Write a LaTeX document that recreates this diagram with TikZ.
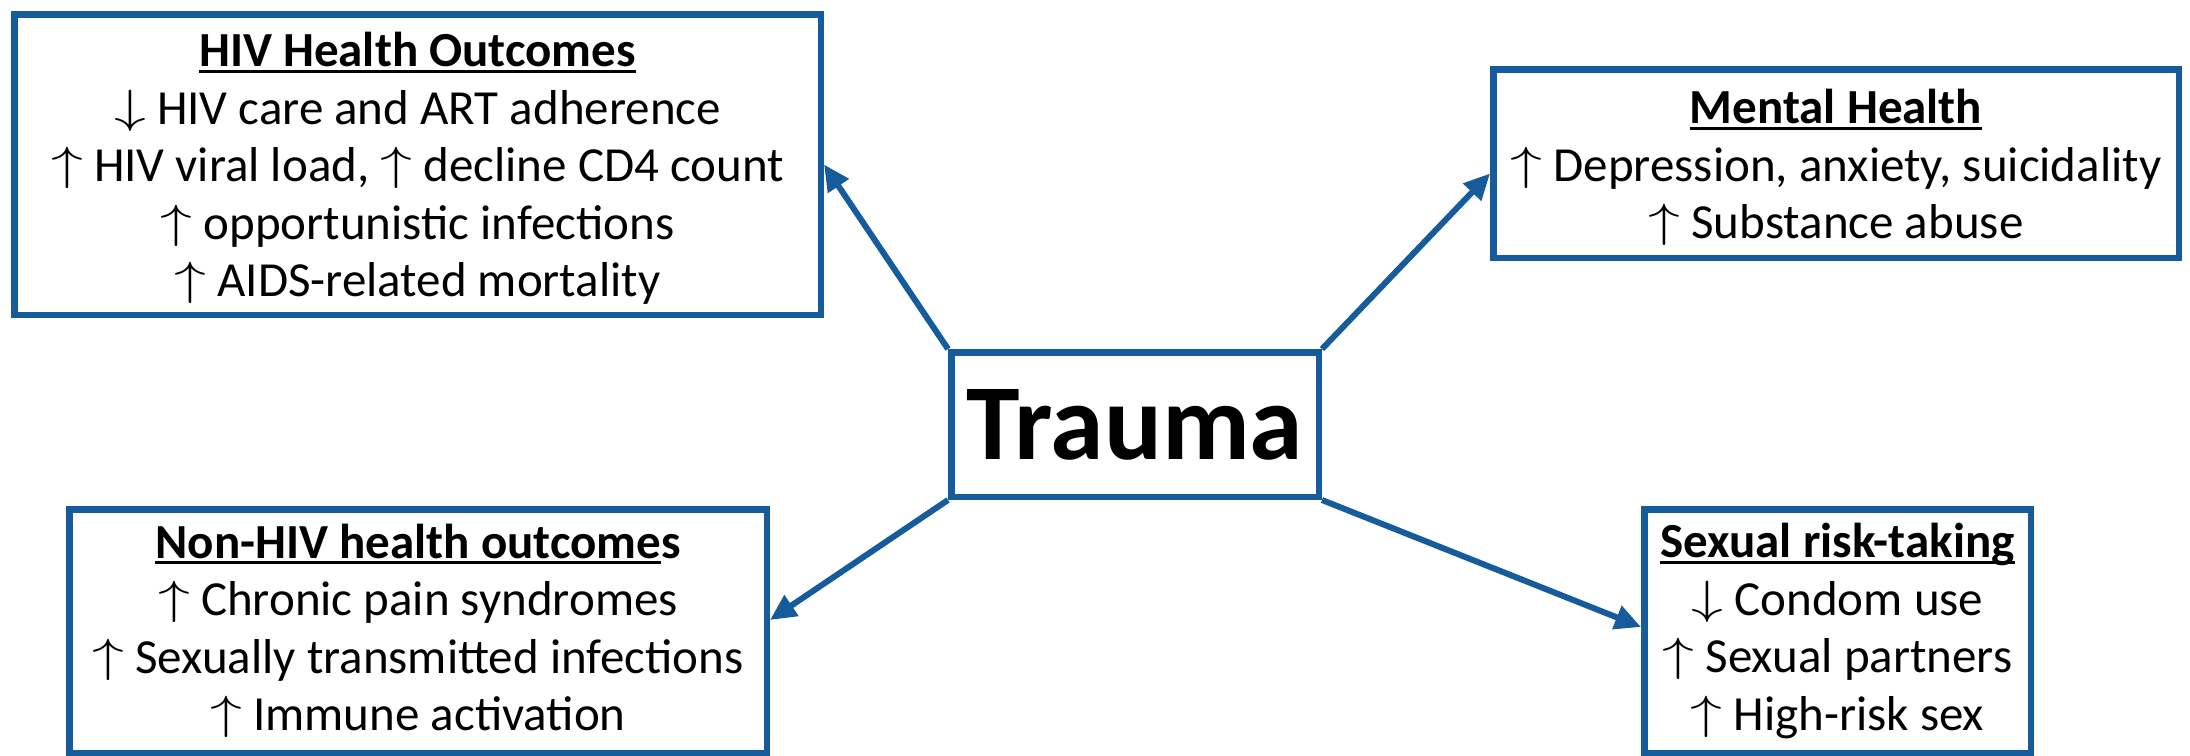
\RequirePackage{fix-cm}
\documentclass[tikz,border=0pt]{standalone}
\usepackage{fontspec}
\setmainfont{Carlito}
\usetikzlibrary{arrows.meta,calc}
\definecolor{bblue}{RGB}{22,91,155}
\newcommand{\ulx}[1]{\setbox0\hbox{#1}\rlap{\rule[-0.12em]{\wd0}{0.06em}}\box0}
\newcommand{\up}{\raisebox{0.04em}{\scalebox{1.3}[0.95]{$\uparrow$}}}
\newcommand{\dn}{\raisebox{0.04em}{\scalebox{1.3}[0.95]{$\downarrow$}}}
\begin{document}
\begin{tikzpicture}[x=1pt,y=-1pt,
  box/.style={draw=bblue,line width=6.5pt,rectangle,inner sep=0pt},
  txt/.style={inner sep=0pt,align=center,font=\fontsize{49}{57.5}\selectfont},
  conn/.style={draw=bblue,line width=6pt,-{Triangle[length=26pt,width=24pt]}}]
\useasboundingbox (0,0) rectangle (2190,755);
\node[box,minimum width=806.5pt,minimum height=300.5pt] (hiv) at (417.5,164.5) {};
\node[txt] (hivt) at ([yshift=-4pt]hiv.center)
  {\ulx{\textbf{HIV Health Outcomes}}\\ \dn{} HIV care and ART adherence\\ \up{} HIV viral load, \up{} decline CD4 count\\ \up{} opportunistic infections\\ \up{} AIDS-related mortality};
\node[box,minimum width=685.5pt,minimum height=188.5pt] (mh) at (1836,163.5) {};
\node[txt] (mht) at ([yshift=-4pt]mh.center)
  {\ulx{\textbf{Mental Health}}\\ \up{} Depression, anxiety, suicidality\\ \up{} Substance abuse};
\node[box,minimum width=367.5pt,minimum height=144.5pt,font=\fontsize{108}{120}\selectfont\bfseries] (tr) at (1135,424.5) {Trauma};
\node[box,minimum width=697.5pt,minimum height=243.5pt] (nh) at (418,631) {};
\node[txt] (nht) at (nh.center)
  {\ulx{\textbf{Non-HIV health outcome}}\textbf{s}\\ \up{} Chronic pain syndromes\\ \up{} Sexually transmitted infections\\ \up{} Immune activation};
\node[box,minimum width=386.5pt,minimum height=243.5pt] (sx) at (1837.5,631) {};
\node[txt] (sxt) at (sx.center)
  {\ulx{\textbf{Sexual risk-taking}}\\ \dn{} Condom use\\ \up{} Sexual partners\\ \up{} High-risk sex};
\draw[conn] (tr.north west) -- (hiv.east);
\draw[conn] (tr.north east) -- ([yshift=-10pt]mh.west);
\draw[conn] (tr.south west) -- ([yshift=11pt]nh.east);
\draw[conn] (tr.south east) -- ([yshift=4pt]sx.west);
\end{tikzpicture}
\end{document}
